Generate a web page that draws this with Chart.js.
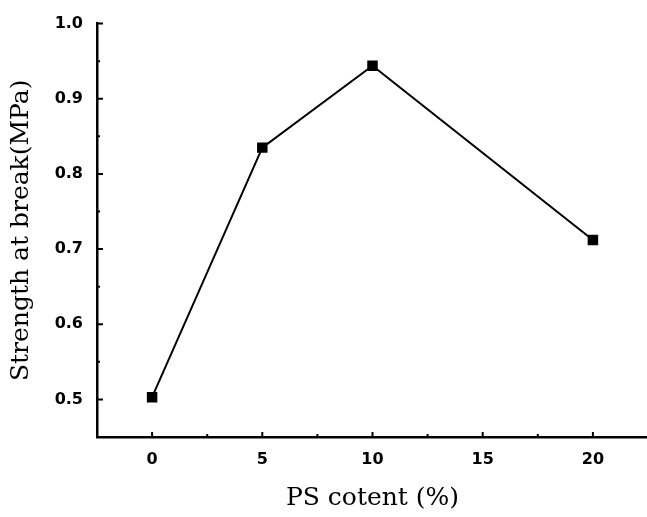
<!DOCTYPE html>
<html><head><meta charset="utf-8">
<script src="https://cdn.jsdelivr.net/npm/chart.js@4"></script>
<style>html,body{margin:0;padding:0;background:#fff;overflow:hidden}#wrap{width:647px;height:517px;overflow:hidden}</style>
</head><body><div id="wrap"><canvas id="c" width="656" height="517"></canvas></div>
<script>
const psContent = [0, 5, 10, 20];
const strength = [0.503, 0.835, 0.944, 0.712];
const xMajorTicks = [0, 5, 10, 15, 20];
const xMinorTicks = [2.5, 7.5, 12.5, 17.5];
const yMajorTicks = [0.5, 0.6, 0.7, 0.8, 0.9, 1.0];
const yMinorTicks = [0.55, 0.65, 0.75, 0.85, 0.95];

const tickPlugin = {
  id: 'innerTicks',
  afterDraw(chart) {
    const ctx = chart.ctx, xs = chart.scales.x, ys = chart.scales.y;
    const ax = chart.chartArea.left, ay = chart.chartArea.bottom;
    ctx.save();
    ctx.strokeStyle = '#000'; ctx.lineWidth = 2;
    ctx.beginPath();
    xMajorTicks.forEach(v => { const p = xs.getPixelForValue(v); ctx.moveTo(p, ay); ctx.lineTo(p, ay - 5); });
    xMinorTicks.forEach(v => { const p = xs.getPixelForValue(v); ctx.moveTo(p, ay); ctx.lineTo(p, ay - 3); });
    yMajorTicks.forEach(v => { const p = ys.getPixelForValue(v); ctx.moveTo(ax, p); ctx.lineTo(ax + 6, p); });
    yMinorTicks.forEach(v => { const p = ys.getPixelForValue(v); ctx.moveTo(ax, p); ctx.lineTo(ax + 3, p); });
    ctx.stroke();
    ctx.restore();
  }
};

new Chart(document.getElementById('c'), {
  type: 'scatter',
  data: {
    datasets: [{
      data: psContent.map((x, i) => ({x, y: strength[i]})),
      showLine: true,
      borderColor: '#000',
      borderWidth: 2,
      backgroundColor: '#000',
      pointStyle: 'rect',
      pointRadius: 6,
      pointHoverRadius: 6
    }]
  },
  options: {
    responsive: false,
    animation: false,
    layout: { padding: { top: 16, right: 0, left: 0, bottom: 0 } },
    plugins: { legend: { display: false }, tooltip: { enabled: false } },
    scales: {
      x: {
        type: 'linear', min: -2.5, max: 22.5,
        afterFit(s) { s.height = 80; },
        afterBuildTicks(s) { s.ticks = xMajorTicks.map(v => ({value: v})); },
        grid: { display: false, drawTicks: false },
        border: { display: true, color: '#000', width: 2.5 },
        ticks: { color: '#000', padding: 13, font: { family: 'DejaVu Sans', size: 16, weight: 'bold' } },
        title: { display: true, text: 'PS cotent (%)', color: '#000', padding: { top: 4, bottom: 4 },
                 font: { family: 'DejaVu Serif', size: 25 } }
      },
      y: {
        type: 'linear', min: 0.45, max: 1.0,
        afterFit(s) { s.width = 97; },
        afterBuildTicks(s) { s.ticks = yMajorTicks.map(v => ({value: v})); },
        grid: { display: false, drawTicks: false },
        border: { display: true, color: '#000', width: 2.5 },
        ticks: { color: '#000', padding: 14, font: { family: 'DejaVu Sans', size: 16, weight: 'bold' },
                 callback: v => v.toFixed(1) },
        title: { display: true, text: 'Strength at break(MPa)', color: '#000', padding: { top: 6, bottom: 4 },
                 font: { family: 'DejaVu Serif', size: 25 } }
      }
    }
  },
  plugins: [tickPlugin]
});
</script></body></html>
